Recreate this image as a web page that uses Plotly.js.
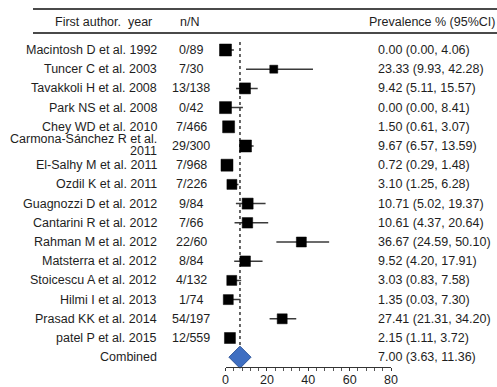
<!DOCTYPE html>
<html>
<head>
<meta charset="utf-8">
<script src="https://cdn.plot.ly/plotly-3.0.1.min.js"></script>
<style>html,body{margin:0;padding:0;background:#fff;}#chart{width:497px;height:387px;}</style>
</head>
<body>
<div id="chart"></div>
<script>
// ---- data ----
const studies = [
  "Macintosh D et al. 1992",
  "Tuncer C et al. 2003",
  "Tavakkoli H et al. 2008",
  "Park NS et al. 2008",
  "Chey WD et al. 2010",
  "Carmona-Sánchez R et al.<br>2011",
  "El-Salhy M et al. 2011",
  "Ozdil K et al. 2011",
  "Guagnozzi D et al. 2012",
  "Cantarini R et al. 2012",
  "Rahman M et al. 2012",
  "Matsterra et al. 2012",
  "Stoicescu A et al. 2012",
  "Hilmi I et al. 2013",
  "Prasad KK et al. 2014",
  "patel P et al. 2015"
];
const nN = ["0/89","7/30","13/138","0/42","7/466","29/300","7/968","7/226","9/84","7/66","22/60","8/84","4/132","1/74","54/197","12/559"];
const est = [0.00, 23.33, 9.42, 0.00, 1.50, 9.67, 0.72, 3.10, 10.71, 10.61, 36.67, 9.52, 3.03, 1.35, 27.41, 2.15];
const lo  = [0.00, 9.93, 5.11, 0.00, 0.61, 6.57, 0.29, 1.25, 5.02, 4.37, 24.59, 4.20, 0.83, 0.03, 21.31, 1.11];
const hi  = [4.06, 42.28, 15.57, 8.41, 3.07, 13.59, 1.48, 6.28, 19.37, 20.64, 50.10, 17.91, 7.58, 7.30, 34.20, 3.72];
const pooledLabel = "Combined";
const pooledEst = [7.00];
const pooledLo = [3.63];
const pooledHi = [11.36];
const heterogeneity = "I<sup>2</sup>:94.6%";
const headers = ["First author.  year", "n/N", "Prevalence % (95%CI)"];
const xTicks = [0, 20, 40, 60, 80];

// ---- styles ----
const squareSize = [12, 8, 11, 12, 12, 12, 12, 10, 11, 10.5, 10, 10.5, 10, 10, 10, 11];
const W = 497, H = 387;
const FONT = "Liberation Sans, Arial, Helvetica, sans-serif";
const FS = 12.5;
const TXT = "#1e1e1e";
const px = x => x / W;
const rowOf = p => (p - 50) / 19.2;

const rows = studies.map((_, i) => i);
const pooledRow = studies.length;

const fmt = (e, l, h) => e.toFixed(2) + " (" + l.toFixed(2) + ", " + h.toFixed(2) + ")";

const traces = [
  {
    type: "scatter", mode: "markers",
    x: est, y: rows,
    cliponaxis: false,
    marker: {symbol: "square", size: squareSize, color: "#000000", opacity: 1,
             line: {color: "#000000", width: 0.5}},
    error_x: {
      type: "data", symmetric: false,
      array: est.map((e, i) => hi[i] - e),
      arrayminus: est.map((e, i) => e - lo[i]),
      color: "#3a3a3a", thickness: 1.5, width: 0
    },
    hoverinfo: "skip", showlegend: false
  },
  {
    type: "scatter", mode: "markers",
    x: pooledEst, y: [pooledRow],
    cliponaxis: false,
    marker: {symbol: "diamond", size: 17, color: "#3f6fc2", opacity: 1, line: {color: "#2d559b", width: 1}},
    hoverinfo: "skip", showlegend: false
  }
];

const ann = [];
function addText(text, x, r, anchor) {
  ann.push({text: text, xref: "paper", yref: "y", x: px(x), y: r,
    xanchor: anchor, yanchor: "middle", showarrow: false, borderpad: 0,
    font: {family: FONT, size: FS, color: TXT}});
}
studies.forEach((s, i) => {
  const parts = s.split("<br>");
  if (parts.length === 1) {
    addText(s, 158, i, "right");
  } else {
    const step = 12 / 19.2;
    const shift = -1 / 19.2;
    parts.forEach((p, k) => addText(p, 158, i + shift + (k - (parts.length - 1) / 2) * step, "right"));
  }
  addText(nN[i], 191, i, "center");
  addText(fmt(est[i], lo[i], hi[i]), 377, i, "left");
});
addText(pooledLabel, 158, pooledRow, "right");
addText(fmt(pooledEst[0], pooledLo[0], pooledHi[0]), 377, pooledRow, "left");
addText(headers[0], 103, rowOf(22), "center");
addText(headers[1], 189, rowOf(22), "center");
addText(headers[2], 496, rowOf(22), "right");
addText(heterogeneity, 27, rowOf(379), "left");

const shapes = [
  {type: "line", xref: "paper", yref: "y", x0: px(33), x1: 1, y0: rowOf(9), y1: rowOf(9),
   line: {color: "#4a4a4a", width: 2}},
  {type: "line", xref: "paper", yref: "y", x0: px(33), x1: 1, y0: rowOf(33), y1: rowOf(33),
   line: {color: "#4a4a4a", width: 2}},
  {type: "line", xref: "x", yref: "y", x0: pooledEst[0], x1: pooledEst[0], y0: rowOf(42), y1: pooledRow,
   layer: "below", line: {color: "#333", width: 1.5, dash: "dot"}}
];

const layout = {
  width: W, height: H,
  margin: {l: 0, r: 0, t: 0, b: 0},
  paper_bgcolor: "#fff", plot_bgcolor: "#fff",
  showlegend: false,
  xaxis: {
    domain: [px(225.5), px(391)], range: [0, 80],
    tickmode: "array", tickvals: xTicks, ticktext: xTicks.map(String),
    ticks: "outside", ticklen: 3, tickwidth: 1, tickcolor: "#333",
    ticklabelstandoff: -2,
    minor: {dtick: 4, tick0: 0, ticks: "outside", ticklen: 3, tickwidth: 1, tickcolor: "#555", showgrid: false},
    showline: true, linecolor: "#333", linewidth: 1,
    showgrid: false, zeroline: false,
    tickfont: {family: FONT, size: FS, color: TXT},
    fixedrange: true
  },
  yaxis: {
    domain: [(H - 367) / H, 1],
    range: [rowOf(367), rowOf(0)],
    visible: false, showgrid: false, zeroline: false, fixedrange: true
  },
  annotations: ann,
  shapes: shapes
};

Plotly.newPlot("chart", traces, layout, {staticPlot: true, displayModeBar: false});
</script>
</body>
</html>
